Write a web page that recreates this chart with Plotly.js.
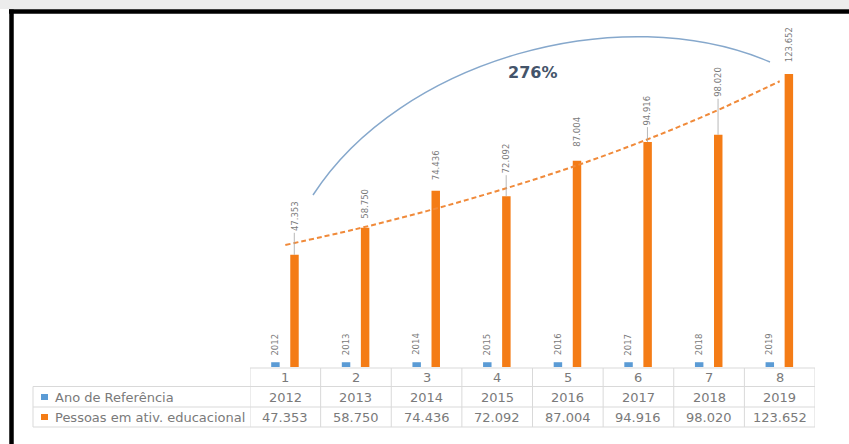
<!DOCTYPE html>
<html><head><meta charset="utf-8">
<script src="https://cdn.plot.ly/plotly-3.0.1.min.js"></script>
<style>html,body{margin:0;padding:0;background:#fff}</style>
</head><body><div id="chart" style="width:849px;height:444px"></div>
<script>
// ---- data ----
const categories = ["1","2","3","4","5","6","7","8"];
const anoReferencia = [2012,2013,2014,2015,2016,2017,2018,2019];
const pessoasAtiv = [47353,58750,74436,72092,87004,94916,98020,123652];
const tendencia = [51500,58200,65800,74300,83800,94600,106800,120600];
const anoLabels = ["2012","2013","2014","2015","2016","2017","2018","2019"];
const pessoasLabels = ["47.353","58.750","74.436","72.092","87.004","94.916","98.020","123.652"];
const seriesNames = ["Ano de Referência","Pessoas em ativ. educacional"];
const growthLabel = "276%";

// ---- styling / placement (not data) ----
const W = 849, H = 444;
const px = p => p / W;
const py = p => 1 - p / H;
const BLUE = "#5b9bd5", ORANGE = "#f47c16", GRAY = "#7a7a7a", GRID = "#d9d9d9";
const FONT = "DejaVu Sans";
const labelGap = [22, 7, 8, 21, 12, 15, 36, 10];
const showLeader = [1, 0, 0, 1, 0, 1, 1, 0];
const xPos = categories.map(Number);

const traces = [
  {type:"bar", name:seriesNames[0], x:xPos, y:anoReferencia, width:0.12, offset:-0.2,
   marker:{color:BLUE}, hoverinfo:"skip", showlegend:false},
  {type:"bar", name:seriesNames[1], x:xPos, y:pessoasAtiv, width:0.12, offset:0.07,
   marker:{color:ORANGE}, hoverinfo:"skip", showlegend:false},
  {type:"scatter", mode:"lines", x:xPos, y:tendencia, hoverinfo:"skip", showlegend:false,
   line:{color:"#f08a3a", width:2, dash:"5px,3px", shape:"spline"}}
];

const annotations = [];
const shapes = [];
const txt = (size) => ({family:FONT, size:size, color:GRAY});
xPos.forEach((x, i) => {
  annotations.push({x:x, y:anoReferencia[i], xref:"x", yref:"y", text:anoLabels[i], showarrow:false,
    textangle:-90, xanchor:"center", yanchor:"bottom", xshift:-10, yshift:5, font:txt(8.5)});
  annotations.push({x:x, y:pessoasAtiv[i], xref:"x", yref:"y", text:pessoasLabels[i], showarrow:false,
    textangle:-90, xanchor:"center", yanchor:"bottom", xshift:9, yshift:labelGap[i], font:txt(8.5)});
  if (showLeader[i]) {
    shapes.push({type:"line", xref:"x", yref:"y", xsizemode:"pixel", xanchor:x, x0:9, x1:9,
      ysizemode:"pixel", yanchor:pessoasAtiv[i], y0:0, y1:labelGap[i], line:{color:"#a6a6a6", width:0.8}});
  }
  annotations.push({x:x, y:py(377.5), xref:"x", yref:"paper", text:categories[i], showarrow:false,
    xanchor:"center", yanchor:"middle", font:txt(13)});
  annotations.push({x:x, y:py(397), xref:"x", yref:"paper", text:anoLabels[i], showarrow:false,
    xanchor:"center", yanchor:"middle", font:txt(13)});
  annotations.push({x:x, y:py(417), xref:"x", yref:"paper", text:pessoasLabels[i], showarrow:false,
    xanchor:"center", yanchor:"middle", font:txt(13)});
});
annotations.push({x:px(53), y:py(397), xref:"paper", yref:"paper", xanchor:"left", yanchor:"middle",
  text:seriesNames[0], showarrow:false, font:txt(13)});
annotations.push({x:px(53), y:py(417), xref:"paper", yref:"paper", xanchor:"left", yanchor:"middle",
  text:seriesNames[1], showarrow:false, font:txt(13)});
annotations.push({x:px(532), y:py(72.5), xref:"paper", yref:"paper", xanchor:"center", yanchor:"middle",
  text:"<b>" + growthLabel + "</b>", showarrow:false, font:{family:FONT, size:16, color:"#44546a"}});

// top light band and black frame
shapes.push({type:"rect", xref:"paper", yref:"paper", x0:0, x1:1, y0:py(9), y1:1,
  fillcolor:"#ececec", line:{width:0}, layer:"below"});
shapes.push({type:"line", xref:"paper", yref:"paper", x0:px(9), x1:1.05, y0:py(11.5), y1:py(11.5),
  line:{color:"#000", width:4.5}});
shapes.push({type:"line", xref:"paper", yref:"paper", x0:px(11.5), x1:px(11.5), y0:-0.05, y1:py(9.5),
  line:{color:"#000", width:4.5}});
// data table grid
const tl = {color:GRID, width:1};
shapes.push({type:"line", xref:"x", yref:"paper", x0:0.5, x1:8.5, y0:py(368), y1:py(368), line:tl});
[386.5, 407, 427].forEach(r => shapes.push({type:"line", xref:"paper", yref:"paper",
  x0:px(33), x1:px(815), y0:py(r), y1:py(r), line:tl}));
shapes.push({type:"line", xref:"paper", yref:"paper", x0:px(33), x1:px(33), y0:py(386.5), y1:py(427), line:tl});
for (let k = 0; k <= xPos.length; k++) {
  shapes.push({type:"line", xref:"x", yref:"paper", x0:k+0.5, x1:k+0.5, y0:py(368), y1:py(427), line:tl});
}
// legend keys in table
shapes.push({type:"rect", xref:"paper", yref:"paper", x0:px(41), x1:px(48), y0:py(400), y1:py(394),
  fillcolor:BLUE, line:{width:0}});
shapes.push({type:"rect", xref:"paper", yref:"paper", x0:px(41), x1:px(48), y0:py(420), y1:py(414),
  fillcolor:ORANGE, line:{width:0}});
// growth arc
const P = (a, b) => px(a).toFixed(5) + "," + py(b).toFixed(5);
shapes.push({type:"path", xref:"paper", yref:"paper",
  path:"M " + P(313,195) + " C " + P(400,60) + " " + P(620,-2) + " " + P(770,62),
  line:{color:"#86a8cc", width:1.5}});

const layout = {
  width:W, height:H, margin:{l:0, r:0, t:0, b:0},
  paper_bgcolor:"#fff", plot_bgcolor:"rgba(0,0,0,0)",
  barmode:"overlay", showlegend:false,
  xaxis:{type:"linear", domain:[px(250), px(815)], range:[0.5, 8.5], showticklabels:false,
    showgrid:false, zeroline:false, showline:false, ticks:"", fixedrange:true},
  yaxis:{domain:[py(367), py(35.3)], range:[0, 140000], visible:false, fixedrange:true},
  annotations:annotations, shapes:shapes,
  font:{family:FONT}
};
Plotly.newPlot("chart", traces, layout, {staticPlot:true, displayModeBar:false});
</script></body></html>
